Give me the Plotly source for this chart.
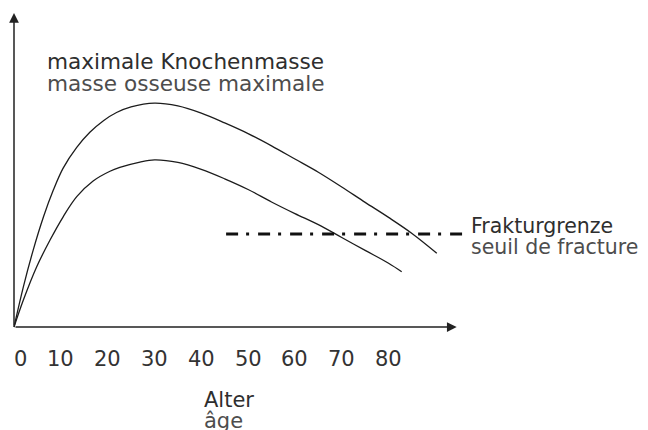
import plotly.graph_objects as go

# ---- data ----
age_upper = [0, 2, 4.1, 6.3, 8.4, 10.5, 13.4, 16.2, 19.1, 21.9, 25, 30, 35, 40, 45, 50, 55, 60, 65, 70, 75, 80, 85, 90.3]
mass_upper = [0, 12.8, 24.5, 35.1, 43.6, 50.6, 57.2, 62.0, 65.7, 68.3, 70.1, 71.3, 70.4, 68.1, 65.0, 61.6, 57.7, 53.5, 49.3, 44.6, 39.7, 34.9, 29.8, 23.5]

age_lower = [0, 2, 4.85, 7.7, 10.5, 13.4, 16.9, 20.5, 22.6, 26.9, 30, 35, 40, 45, 50, 55, 60, 65, 70, 75, 80, 82.8]
mass_lower = [0, 8.6, 19.2, 27.7, 35.1, 41.5, 46.5, 49.6, 50.8, 52.5, 53.2, 52.4, 50.2, 47.2, 43.8, 39.8, 36.1, 32.6, 28.5, 24.4, 20.3, 17.6]

fracture_age = [45.3, 95.7]
fracture_level = 29.6

tick_values = [0, 10, 20, 30, 40, 50, 60, 70, 80]
tick_labels = ["0", "10", "20", "30", "40", "50", "60", "70", "80"]

x_axis_end = 94.55
y_axis_end = 100

FONT = "DejaVu Sans"
INK = "#1c1c1c"

fig = go.Figure()

fig.add_trace(go.Scatter(x=age_upper, y=mass_upper, mode="lines",
                         line=dict(color=INK, width=1.3, shape="spline", smoothing=1),
                         hoverinfo="skip", showlegend=False))
fig.add_trace(go.Scatter(x=age_lower, y=mass_lower, mode="lines",
                         line=dict(color=INK, width=1.3, shape="spline", smoothing=1),
                         hoverinfo="skip", showlegend=False))
fig.add_trace(go.Scatter(x=fracture_age, y=[fracture_level, fracture_level], mode="lines",
                         line=dict(color="#111111", width=3, dash="12px,8px,3px,9px"),
                         hoverinfo="skip", showlegend=False))

annotations = []
# axes with arrowheads
annotations.append(dict(x=x_axis_end, y=0, ax=0, ay=0, xref="x", yref="y", axref="x", ayref="y",
                        text="", showarrow=True, arrowhead=2, arrowsize=1.3, arrowwidth=1.5,
                        arrowcolor="#222222", standoff=0))
annotations.append(dict(x=0, y=y_axis_end, ax=0, ay=0, xref="x", yref="y", axref="x", ayref="y",
                        text="", showarrow=True, arrowhead=2, arrowsize=1.3, arrowwidth=1.5,
                        arrowcolor="#222222", standoff=0))

# tick labels
for v, lab in zip(tick_values, tick_labels):
    annotations.append(dict(x=v, y=-10.3, xref="x", yref="y", text=lab, showarrow=False,
                            xanchor="center", yanchor="middle", xshift=6 if v == 0 else 0,
                            font=dict(family=FONT, size=21, color="#333333")))

def label(x, y, text, color, size):
    annotations.append(dict(x=x, y=y, xref="x", yref="y", text=text, showarrow=False,
                            xanchor="left", yanchor="middle",
                            font=dict(family=FONT, size=size, color=color)))

label(6.7, 84.4, "maximale Knochenmasse", "#2e2e2e", 21.6)
label(6.7, 77.7, "masse osseuse maximale", "#4d4d4d", 21.6)
label(97.1, 32.1, "Frakturgrenze", "#2e2e2e", 20.5)
label(97.1, 25.5, "seuil de fracture", "#4d4d4d", 20.5)
label(40.2, -23.2, "Alter", "#2e2e2e", 21)
label(40.2, -29.9, "âge", "#4d4d4d", 21)

# page body keeps an 8px margin, so the figure is 640x422 to fill the 648x430 window
fig.update_layout(
    width=640, height=422, autosize=False,
    margin=dict(l=0, r=0, t=0, b=0),
    paper_bgcolor="white", plot_bgcolor="white",
    xaxis=dict(range=[-1.2815, 135.41], visible=False, fixedrange=True),
    yaxis=dict(range=[-32.80, 101.59], visible=False, fixedrange=True),
    annotations=annotations,
    showlegend=False,
)

fig.write_html("out.html", config={"displayModeBar": False})
